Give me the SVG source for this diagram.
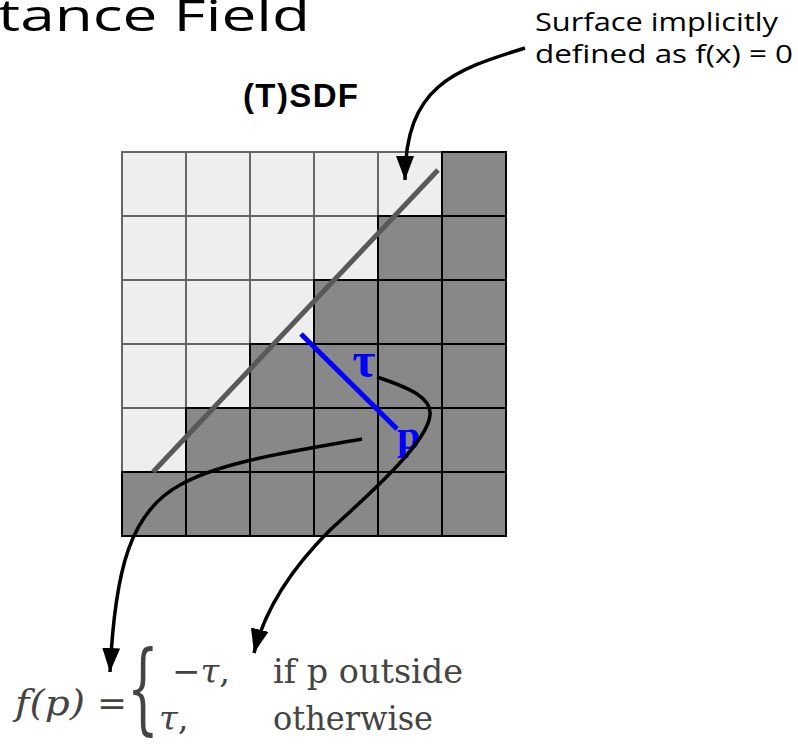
<svg xmlns="http://www.w3.org/2000/svg" width="798" height="745" viewBox="0 0 798 745">
  <defs>
    <marker id="ah" markerUnits="userSpaceOnUse" markerWidth="24" markerHeight="18" refX="24" refY="9" orient="auto">
      <path d="M0,0 L24,9 L0,18 z" fill="#000"/>
    </marker>
    <style>
      .light { fill: #eeeeee; stroke: #666666; stroke-width: 2; }
      .dark { fill: #888888; stroke: #000000; stroke-width: 2; }
      .conn { fill: none; stroke: #000; stroke-width: 3.5; marker-end: url(#ah); }
      .sans { font-family: "Open Sans", "Liberation Sans", sans-serif; fill: #000; }
      .math { font-family: "DejaVu Serif", "Liberation Serif", serif; fill: #444; }
      .mlabel { font-family: "Liberation Serif", "DejaVu Serif", serif; font-weight: bold; fill: #0000ff; }
    </style>
  </defs>
  <rect width="798" height="745" fill="#fff"/>

  <g id="title">
    <text class="sans" x="-2" y="31" font-size="44" textLength="312" lengthAdjust="spacingAndGlyphs">tance Field</text>
  </g>

  <g id="tsdf-label">
    <text x="243" y="107" font-family="Liberation Sans, Arial, sans-serif" font-weight="bold" font-size="33" textLength="115" fill="#000">(T)SDF</text>
  </g>

  <g id="annotation">
    <text class="sans" x="535" y="31" font-size="25" textLength="243" lengthAdjust="spacingAndGlyphs">Surface implicitly</text>
    <text class="sans" x="535" y="63" font-size="25" textLength="258" lengthAdjust="spacingAndGlyphs">defined as f(x) = 0</text>
  </g>

  <g id="grid">
    <g id="light-cells">
      <rect class="light" x="122" y="152" width="64" height="64"/>
      <rect class="light" x="186" y="152" width="64" height="64"/>
      <rect class="light" x="250" y="152" width="64" height="64"/>
      <rect class="light" x="314" y="152" width="64" height="64"/>
      <rect class="light" x="378" y="152" width="64" height="64"/>
      <rect class="light" x="122" y="216" width="64" height="64"/>
      <rect class="light" x="186" y="216" width="64" height="64"/>
      <rect class="light" x="250" y="216" width="64" height="64"/>
      <rect class="light" x="314" y="216" width="64" height="64"/>
      <rect class="light" x="122" y="280" width="64" height="64"/>
      <rect class="light" x="186" y="280" width="64" height="64"/>
      <rect class="light" x="250" y="280" width="64" height="64"/>
      <rect class="light" x="122" y="344" width="64" height="64"/>
      <rect class="light" x="186" y="344" width="64" height="64"/>
      <rect class="light" x="122" y="408" width="64" height="64"/>
    </g>
    <g id="dark-cells">
      <rect class="dark" x="442" y="152" width="64" height="64"/>
      <rect class="dark" x="378" y="216" width="64" height="64"/>
      <rect class="dark" x="442" y="216" width="64" height="64"/>
      <rect class="dark" x="314" y="280" width="64" height="64"/>
      <rect class="dark" x="378" y="280" width="64" height="64"/>
      <rect class="dark" x="442" y="280" width="64" height="64"/>
      <rect class="dark" x="250" y="344" width="64" height="64"/>
      <rect class="dark" x="314" y="344" width="64" height="64"/>
      <rect class="dark" x="378" y="344" width="64" height="64"/>
      <rect class="dark" x="442" y="344" width="64" height="64"/>
      <rect class="dark" x="186" y="408" width="64" height="64"/>
      <rect class="dark" x="250" y="408" width="64" height="64"/>
      <rect class="dark" x="314" y="408" width="64" height="64"/>
      <rect class="dark" x="378" y="408" width="64" height="64"/>
      <rect class="dark" x="442" y="408" width="64" height="64"/>
      <rect class="dark" x="122" y="472" width="64" height="64"/>
      <rect class="dark" x="186" y="472" width="64" height="64"/>
      <rect class="dark" x="250" y="472" width="64" height="64"/>
      <rect class="dark" x="314" y="472" width="64" height="64"/>
      <rect class="dark" x="378" y="472" width="64" height="64"/>
      <rect class="dark" x="442" y="472" width="64" height="64"/>
    </g>
  </g>

  <g id="surface">
    <line x1="153" y1="472" x2="438" y2="170" stroke="#595959" stroke-width="5"/>
  </g>

  <g id="tau">
    <line x1="301" y1="334" x2="397" y2="429" stroke="#0000ff" stroke-width="5"/>
    <text class="mlabel" x="364" y="377" font-size="50" text-anchor="middle">τ</text>
    <text class="mlabel" x="397" y="449" font-size="42">p</text>
  </g>

  <g id="connectors">
    <path class="conn" d="M525,48 C455,70 405,85 405,180"/>
    <path class="conn" d="M362,439 C290,452 220,462 180,485 C130,512 115,570 110,672"/>
    <path class="conn" d="M377,377 C410,388 432,398 430,415 C428,440 380,485 330,530 C295,565 265,608 254,653"/>
  </g>

  <g id="formula">
    <text class="math" x="15" y="715" font-size="36" font-style="italic" textLength="70" lengthAdjust="spacingAndGlyphs">f(p)</text>
    <text class="math" x="97" y="715" font-size="34" textLength="30" lengthAdjust="spacingAndGlyphs">=</text>
    <text class="math" font-size="100" transform="translate(127,722) scale(0.5,1)">{</text>
    <text class="math" x="172" y="683" font-size="34">−<tspan font-style="italic">τ</tspan>,</text>
    <text class="math" x="159" y="730" font-size="34"><tspan font-style="italic">τ</tspan>,</text>
    <text class="math" x="273" y="683" font-size="33" textLength="190" lengthAdjust="spacingAndGlyphs">if p outside</text>
    <text class="math" x="273" y="730" font-size="33" textLength="160" lengthAdjust="spacingAndGlyphs">otherwise</text>
  </g>
</svg>
